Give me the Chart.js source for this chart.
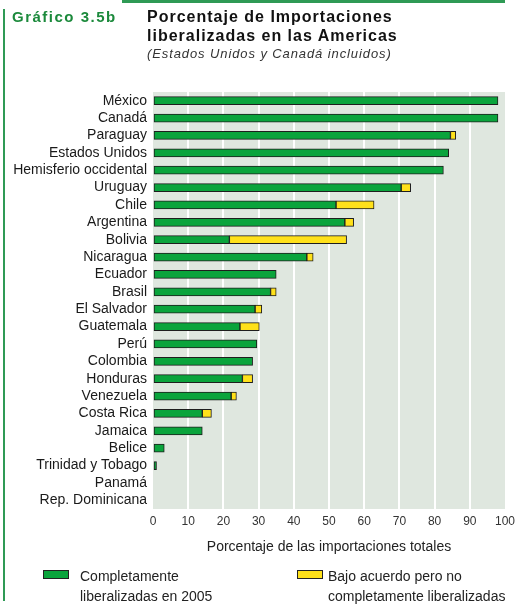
<!DOCTYPE html>
<html>
<head>
<meta charset="utf-8">
<script src="https://cdn.jsdelivr.net/npm/chart.js@4.4.0/dist/chart.umd.min.js"></script>
<style>
  body { margin: 0; background: #fff; }
  #wrap { position: relative; width: 515px; height: 606px; overflow: hidden; font-family: "Liberation Sans", Arial, sans-serif; }
  #chart { position: absolute; left: 0; top: 0; }
  .abs { position: absolute; white-space: nowrap; }
  .topline { left: 122px; top: 0; width: 383px; height: 3px; background: #2f9a55; }
  .leftline { left: 3px; top: 9px; width: 2px; height: 592px; background: #2f9a55; }
  .num { left: 12px; top: 8px; font-size: 15px; font-weight: bold; color: #1c8a3c; letter-spacing: 1.5px; }
  .t1 { left: 147px; top: 7px; font-size: 16px; font-weight: bold; color: #111; line-height: 19px; letter-spacing: 1px; }
  .sub { left: 147px; top: 46px; font-size: 13px; font-style: italic; color: #333; letter-spacing: 0.9px; }
  .xtitle { left: 153px; width: 352px; top: 538px; text-align: center; font-size: 14px; color: #222; }
  .box { width: 24px; height: 7px; border: 1px solid #222; }
  .leg { font-size: 14px; color: #222; line-height: 20px; }
</style>
</head>
<body>
<div id="wrap">
  <canvas id="chart" width="515" height="606"></canvas>
  <div class="abs topline"></div>
  <div class="abs leftline"></div>
  <div class="abs num">Gráfico 3.5b</div>
  <div class="abs t1">Porcentaje de Importaciones<br>liberalizadas en las Americas</div>
  <div class="abs sub">(Estados Unidos y Canadá incluidos)</div>
  <div class="abs xtitle">Porcentaje de las importaciones totales</div>
  <div class="abs box" style="left:43px; top:570px; background:#0aa43c;"></div>
  <div class="abs leg" style="left:80px; top:566px;">Completamente<br>liberalizadas en 2005</div>
  <div class="abs box" style="left:297px; top:570px; background:#ffe11a;"></div>
  <div class="abs leg" style="left:328px; top:566px;">Bajo acuerdo pero no<br>completamente liberalizadas</div>
</div>
<script>
let countries = ["México", "Canadá", "Paraguay", "Estados Unidos", "Hemisferio occidental",
  "Uruguay", "Chile", "Argentina", "Bolivia", "Nicaragua", "Ecuador", "Brasil",
  "El Salvador", "Guatemala", "Perú", "Colombia", "Honduras", "Venezuela",
  "Costa Rica", "Jamaica", "Belice", "Trinidad y Tobago", "Panamá", "Rep. Dominicana"];

// fully liberalized share
let liberalized = [98, 98, 84.5, 84, 82.5, 70.5, 52, 54.5, 21.7, 43.7, 35, 33.4,
  29, 24.7, 29.5, 28.3, 25.4, 22.2, 14, 14, 3.2, 1, 0, 0];

// covered by agreement but not yet liberalized
let pending = [0, 0, 1.5, 0, 0, 2.7, 10.8, 2.5, 33.3, 1.8, 0, 1.6,
  1.9, 5.5, 0, 0, 2.9, 1.5, 2.6, 0, 0, 0, 0, 0];

let xTicks = [0, 10, 20, 30, 40, 50, 60, 70, 80, 90, 100];

const plotBg = {
  id: "plotBg",
  beforeDraw(chart) {
    const a = chart.chartArea;
    const ctx = chart.ctx;
    ctx.save();
    ctx.fillStyle = "#dfe7df";
    ctx.fillRect(a.left, a.top, a.right - a.left, a.bottom - a.top);
    ctx.restore();
  }
};

new Chart(document.getElementById("chart"), {
  type: "bar",
  data: {
    labels: countries,
    datasets: [
      {
        label: "Completamente liberalizadas en 2005",
        data: liberalized,
        backgroundColor: "#0aa43c",
        borderColor: "#1e1e1e",
        borderWidth: 1,
        borderSkipped: false,
        barThickness: 8
      },
      {
        label: "Bajo acuerdo pero no completamente liberalizadas",
        data: pending,
        backgroundColor: "#ffe11a",
        borderColor: "#1e1e1e",
        borderWidth: 1,
        borderSkipped: false,
        barThickness: 8
      }
    ]
  },
  options: {
    indexAxis: "y",
    responsive: false,
    animation: false,
    layout: { padding: { top: 92, right: 10, bottom: 70, left: 0 } },
    plugins: { legend: { display: false }, tooltip: { enabled: false } },
    scales: {
      x: {
        stacked: true,
        min: 0,
        max: 100,
        afterBuildTicks(scale) {
          scale.ticks = xTicks.map(v => ({ value: v }));
        },
        grid: {
          drawTicks: false,
          lineWidth: 2,
          color: ctx => (ctx.tick && ctx.tick.value > 0 && ctx.tick.value < 100) ? "#ffffff" : "rgba(0,0,0,0)"
        },
        border: { display: false },
        ticks: {
          padding: 5,
          maxRotation: 0,
          color: "#333",
          font: { family: "Liberation Sans", size: 12 }
        },
        afterFit(scale) {
          scale.height = 27;
          scale.paddingRight = 0;
        }
      },
      y: {
        stacked: true,
        grid: { display: false, drawTicks: false },
        border: { display: false },
        ticks: {
          autoSkip: false,
          padding: 6,
          color: "#1a1a1a",
          font: { family: "Liberation Sans", size: 14 }
        },
        afterFit(scale) { scale.width = 153; }
      }
    }
  },
  plugins: [plotBg]
});
</script>
</body>
</html>
